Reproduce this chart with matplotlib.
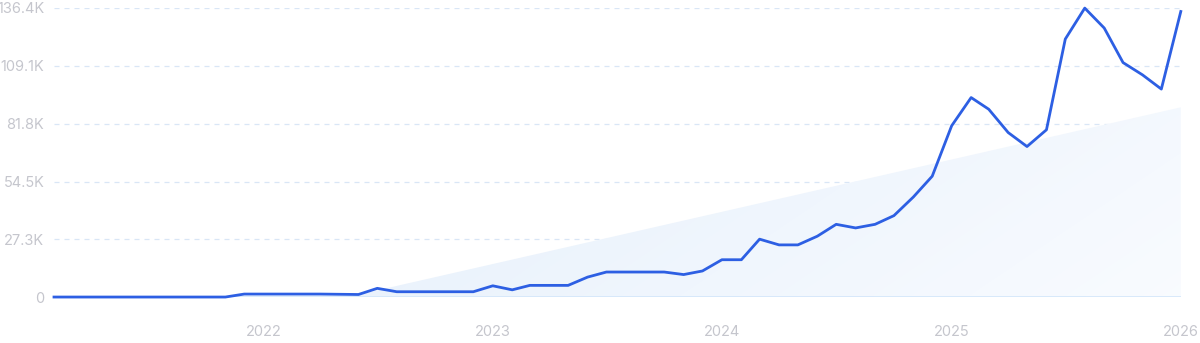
import matplotlib
matplotlib.use("Agg")
import matplotlib.pyplot as plt
import matplotlib.dates as mdates
from matplotlib.patches import Polygon
import numpy as np
import pandas as pd

plt.rcParams['font.family'] = ['Inter', 'DejaVu Sans']

# monthly values (thousands), Feb 2021 .. Jan 2026
months = pd.date_range('2021-02-01', '2026-01-01', freq='MS')
values = [0, 0, 0, 0, 0, 0, 0, 0, 0, 0,            # Feb-Nov 2021
          1.4,                                      # Dec 2021
          1.4, 1.4, 1.4, 1.4, 1.3, 1.2, 4.1, 2.5, 2.5, 2.5, 2.5, 2.5,   # 2022
          5.3, 3.4, 5.5, 5.5, 5.5, 9.4, 11.8, 11.8, 11.8, 11.8, 10.6, 12.3,  # 2023
          17.6, 17.6, 27.3, 24.6, 24.6, 28.7, 34.3, 32.6, 34.3, 38.4, 47.2, 57.0,  # 2024
          80.8, 94.1, 88.6, 77.6, 71.0, 78.9, 121.7, 136.3, 126.9, 110.6, 104.8, 98.1,  # 2025
          134.7]                                    # Jan 2026

# trend band
trend_dates = pd.to_datetime(['2022-05-15', '2026-01-01'])
trend_vals = [0, 89.5]

yticks = [0, 27.3, 54.5, 81.8, 109.1, 136.4]
ytick_labels = ['0', '27.3K', '54.5K', '81.8K', '109.1K', '136.4K']
xticks = pd.to_datetime(['2022-01-01', '2023-01-01', '2024-01-01', '2025-01-01', '2026-01-01'])
xtick_labels = ['2022', '2023', '2024', '2025', '2026']

fig = plt.figure(figsize=(12, 3.43), dpi=100)
ax = fig.add_axes([0.045, 0.134, 0.939, 0.843])

xmin, xmax = mdates.date2num(months[0]), mdates.date2num(months[-1])
ax.set_xlim(xmin, xmax)
ax.set_ylim(0, 136.4)

# gradient fill for the trend triangle
tx = mdates.date2num(trend_dates)
gx, gy = np.meshgrid(np.linspace(0, 1, 200), np.linspace(0, 1, 60))
t = np.clip(0.75 * gx + 0.25 * (1 - gy), 0, 1)
c0 = np.array([0.90, 0.94, 0.985])
c1 = np.array([0.975, 0.985, 1.0])
img = c0[None, None, :] * (1 - t[..., None]) + c1[None, None, :] * t[..., None]
im = ax.imshow(img, extent=[tx[0], tx[1], 0, trend_vals[1]], origin='lower',
               aspect='auto', zorder=1, interpolation='bilinear')
poly = Polygon([[tx[0], trend_vals[0]], [tx[1], trend_vals[1]], [tx[1], 0]],
               closed=True, transform=ax.transData, facecolor='none', edgecolor='none')
ax.add_patch(poly)
im.set_clip_path(poly)

# grid
for yv in yticks[1:]:
    ax.axhline(yv, color='#d9e6f6', lw=0.9, dashes=(4, 4), zorder=0)
ax.axhline(0, color='#d3e6fa', lw=1.2, zorder=2)

ax.plot(months, values, color='#2d5fe3', lw=2.0, zorder=3,
        solid_joinstyle='round', clip_on=False)

ax.set_yticks(yticks)
ax.set_yticklabels(ytick_labels)
ax.set_xticks(xticks)
ax.set_xticklabels(xtick_labels)
ax.tick_params(axis='both', length=0, labelsize=10.5, labelcolor='#c5c6cd')
ax.tick_params(axis='y', pad=7)
ax.tick_params(axis='x', pad=20)
for s in ax.spines.values():
    s.set_visible(False)

fig.savefig('out.png', dpi=100)
